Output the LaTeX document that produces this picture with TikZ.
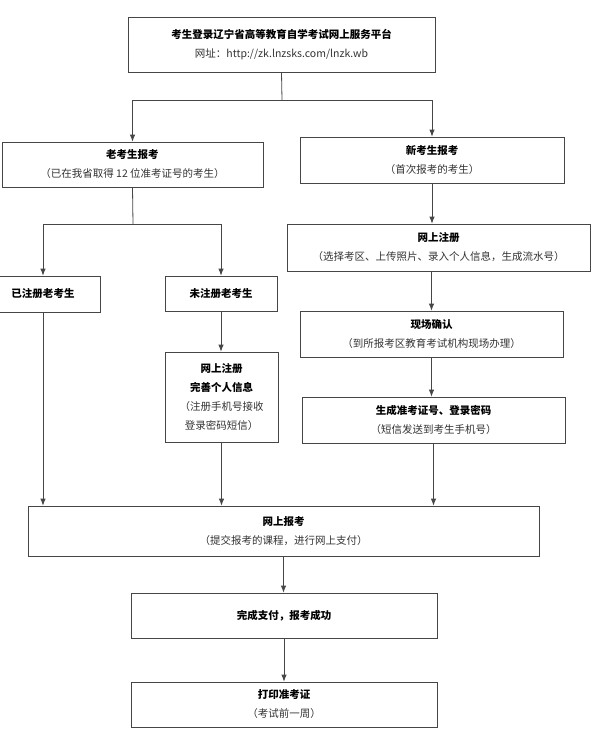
\documentclass[tikz,border=0pt]{standalone}
\usepackage{fontspec}
\usepackage{tikz}
\usetikzlibrary{arrows.meta}
\newfontfamily\cjk{Noto Sans CJK SC}
\definecolor{boxline}{RGB}{70,70,70}
\definecolor{subtext}{RGB}{50,50,50}

\begin{document}
\begin{tikzpicture}[x=1pt, y=-1pt, >={Latex[length=7pt,width=5.5pt]}, font=\cjk\fontsize{10.5}{19}\selectfont,
		kasten/.style={draw=boxline, line width=0.8pt, inner sep=0pt, align=center},
		linie/.style={draw=boxline, line width=0.8pt}]
				%Bildbereich
				\useasboundingbox (0,0) rectangle (595,731);
				% Kaesten oben
				\node[kasten, minimum width=307, minimum height=55] (top) at (281.5,44.5) {\textbf{考生登录辽宁省高等教育自学考试网上服务平台}\\ \color{subtext}网址：http://zk.lnzsks.com/lnzk.wb};
				\node[kasten, minimum width=261, minimum height=45] (old) at (132.5,164.5) {\textbf{老考生报考}\\ \color{subtext}（已在我省取得 12 位准考证号的考生）};
				\node[kasten, minimum width=264, minimum height=46] (new) at (432,160) {\textbf{新考生报考}\\ \color{subtext}（首次报考的考生）};
				% linke Seite
				\node[kasten, minimum width=114, minimum height=36] (reged) at (43,294) {\textbf{已注册老考生}};
				\node[kasten, minimum width=112, minimum height=35] (unreg) at (221,293.5) {\textbf{未注册老考生}};
				\node[kasten, minimum width=113, minimum height=90] (complete) at (221.5,397) {\textbf{网上注册}\\ \textbf{完善个人信息}\\ \color{subtext}（注册手机号接收\\ \color{subtext}登录密码短信）};
				% rechte Seite
				\node[kasten, minimum width=303, minimum height=47] (reg) at (438.5,247.5) {\textbf{网上注册}\\ \color{subtext}（选择考区、上传照片、录入个人信息，生成流水号）};
				\node[kasten, minimum width=263, minimum height=46] (onsite) at (431.5,334) {\textbf{现场确认}\\ \color{subtext}（到所报考区教育考试机构现场办理）};
				\node[kasten, minimum width=263, minimum height=46] (gen) at (433.5,420) {\textbf{生成准考证号、登录密码}\\ \color{subtext}（短信发送到考生手机号）};
				% unten
				\node[kasten, minimum width=511, minimum height=50] (apply) at (283.5,531) {\textbf{网上报考}\\ \color{subtext}（提交报考的课程，进行网上支付）};
				\node[kasten, minimum width=306, minimum height=45] (paid) at (284,615.5) {\textbf{完成支付，报考成功}};
				\node[kasten, minimum width=306, minimum height=45] (ticket) at (284,704.5) {\textbf{打印准考证}\\ \color{subtext}（考试前一周）};
				%Verzweigungen
				\coordinate (split1) at (282,100);
				\coordinate (split2) at (133,224);
				\draw[linie] (top.south) -- (split1);
				\draw[linie,->] (split1) -| (old.north);
				\draw[linie,->] (split1) -| (new.north);
				\draw[linie] (old.south) -- (split2);
				\draw[linie,->] (split2) -| (reged.north);
				\draw[linie,->] (split2) -| (unreg.north);
				%Pfeile
				\draw[linie,->] (reged.south) -- (reged.south |- apply.north);
				\draw[linie,->] (unreg.south) -- (unreg.south |- complete.north);
				\draw[linie,->] (complete.south) -- (complete.south |- apply.north);
				\draw[linie,->] (new.south) -- (new.south |- reg.north);
				\draw[linie,->] (onsite.north |- reg.south) -- (onsite.north);
				\draw[linie,->] (onsite.south) -- (onsite.south |- gen.north);
				\draw[linie,->] (gen.south) -- (gen.south |- apply.north);
				\draw[linie,->] (apply.south) -- (apply.south |- paid.north);
				\draw[linie,->] (paid.south) -- (paid.south |- ticket.north);
		\end{tikzpicture}
\end{document}
